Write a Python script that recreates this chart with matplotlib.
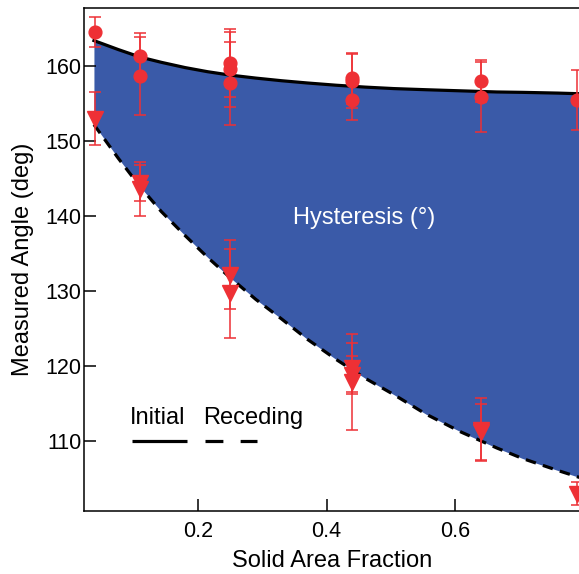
import matplotlib
matplotlib.use('Agg')
import matplotlib.pyplot as plt

plt.rcParams['font.family'] = ['Liberation Sans', 'DejaVu Sans']

# measured points (red markers)
init_x = [0.04, 0.11, 0.11, 0.25, 0.25, 0.25, 0.44, 0.44, 0.44, 0.64, 0.64, 0.79]
init_y = [164.5, 161.4, 158.7, 160.4, 159.6, 157.7, 158.4, 158.0, 155.5, 158.0, 155.9, 155.5]
init_err = [2.0, 3.0, 5.2, 4.5, 5.0, 5.5, 3.4, 3.6, 2.7, 2.8, 4.7, 4.0]

rec_x = [0.04, 0.11, 0.11, 0.25, 0.25, 0.44, 0.44, 0.44, 0.64, 0.64, 0.79]
rec_y = [153.0, 144.4, 143.6, 132.2, 129.7, 119.8, 118.8, 117.9, 111.5, 111.2, 103.0]
rec_err = [3.5, 2.4, 3.6, 4.6, 5.9, 3.3, 2.5, 6.4, 4.2, 3.7, 1.5]

# fitted curves
curve_x = [0.038, 0.076, 0.11, 0.143, 0.18, 0.215, 0.25, 0.29, 0.33, 0.37,
           0.415, 0.46, 0.505, 0.555, 0.61, 0.665, 0.705, 0.76, 0.8]
curve_init = [163.4, 162.2, 161.2, 160.5, 159.8, 159.25, 158.8, 158.4, 158.05, 157.75,
              157.45, 157.2, 157.0, 156.85, 156.7, 156.55, 156.5, 156.4, 156.3]
curve_rec = [152.2, 147.7, 143.9, 140.6, 137.4, 134.5, 131.8, 128.9, 126.3, 123.6,
             120.9, 118.4, 116.2, 113.6, 111.2, 109.1, 107.7, 106.1, 105.0]

RED = '#EE3035'
BLUE = '#3A5AA8'

fig = plt.figure(figsize=(5.79, 5.74), dpi=100)
ax = fig.add_axes([0.1456, 0.1098, 0.8544, 0.8757])

ax.fill_between(curve_x, curve_rec, curve_init, color=BLUE, lw=0, zorder=1)
ax.plot(curve_x, curve_init, color='black', lw=2.3, zorder=2)
ax.plot(curve_x, curve_rec, color='black', lw=2.3, ls=(0, (3.3, 2.3)), zorder=2)

ax.errorbar(init_x, init_y, yerr=init_err, fmt='o', color=RED, ms=9.2,
            elinewidth=1.1, capsize=4, capthick=1.1, zorder=3)
ax.errorbar(rec_x, rec_y, yerr=rec_err, fmt='v', color=RED, ms=11,
            elinewidth=1.1, capsize=4, capthick=1.1, zorder=3)

# legend drawn by hand
ax.plot([0.0975, 0.183], [110, 110], color='black', lw=2.3, solid_capstyle='butt')
ax.plot([0.2115, 0.2915], [110, 110], color='black', lw=2.3, ls=(0, (5.6, 5.4)))
ax.text(0.0935, 111.6, 'Initial', fontsize=17, ha='left', va='bottom')
ax.text(0.2085, 111.6, 'Receding', fontsize=17, ha='left', va='bottom')

ax.text(0.458, 139.7, 'Hysteresis (\u00b0)', color='white', fontsize=17,
        ha='center', va='center')

ax.set_xlim(0.023, 0.793)
ax.set_ylim(100.7, 167.7)
ax.set_xticks([0.2, 0.4, 0.6])
ax.set_yticks([110, 120, 130, 140, 150, 160])
ax.tick_params(direction='in', length=8.5, width=1.1, labelsize=15.5)
ax.tick_params(axis='y', pad=2)
ax.tick_params(axis='x', pad=7)
ax.spines['right'].set_visible(False)
for s in ['left', 'top', 'bottom']:
    ax.spines[s].set_linewidth(1.1)

ax.set_xlabel('Solid Area Fraction', fontsize=17, labelpad=6)
ax.set_ylabel('Measured Angle (deg)', fontsize=17, labelpad=8)

fig.savefig('out.png', dpi=100)
